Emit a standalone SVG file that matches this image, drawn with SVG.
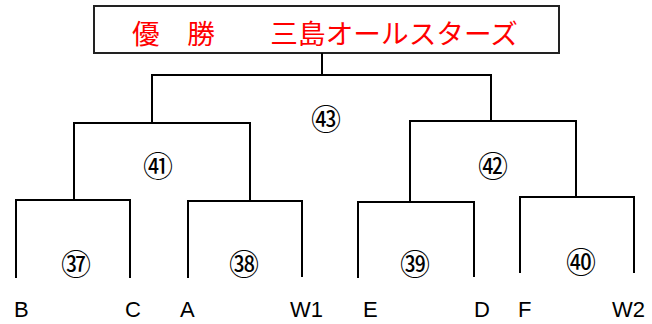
<svg xmlns="http://www.w3.org/2000/svg" width="652" height="324" viewBox="0 0 652 324">
<style>
.ln{fill:none;stroke:#000;stroke-width:2}
.num{font-family:"Noto Sans CJK JP","DejaVu Sans",sans-serif;font-size:30px;text-anchor:middle;dominant-baseline:central;fill:#000}
.team{font-family:"Liberation Sans",Arial,sans-serif;font-size:22px;fill:#000}
.title{font-family:"Noto Sans CJK JP",sans-serif;font-size:27px;fill:#f00}
</style>
<rect width="652" height="324" fill="#fff"/>
<g id="title">
<rect x="94" y="6" width="465" height="47" fill="#fff" stroke="#222" stroke-width="2"/>
<text class="title" x="132" y="44" textLength="386" lengthAdjust="spacingAndGlyphs">優　勝　　三島オールスターズ</text>
</g>
<g id="connectors">
<path class="ln" d="M322,53 V75"/>
<path class="ln" d="M152,122 V75 H491 V120"/>
<path class="ln" d="M74,200 V123 H250 V201"/>
<path class="ln" d="M410,202 V121 H576 V197"/>
<path class="ln" d="M16,278 V200 H130 V278"/>
<path class="ln" d="M188,278 V201 H302 V277"/>
<path class="ln" d="M358,278 V202 H474 V277"/>
<path class="ln" d="M520,273 V197 H634 V273"/>
</g>
<g id="m43"><text class="num" x="326" y="117">㊸</text></g>
<g id="m41"><text class="num" x="158" y="164">㊶</text></g>
<g id="m42"><text class="num" x="493" y="164">㊷</text></g>
<g id="m37"><text class="num" x="76" y="262">㊲</text></g>
<g id="m38"><text class="num" x="244" y="262">㊳</text></g>
<g id="m39"><text class="num" x="415" y="262">㊴</text></g>
<g id="m40"><text class="num" x="581" y="260">㊵</text></g>
<g id="tB"><text class="team" x="14" y="317">B</text></g>
<g id="tC"><text class="team" x="125" y="317">C</text></g>
<g id="tA"><text class="team" x="180" y="317">A</text></g>
<g id="tW1"><text class="team" x="290" y="317">W1</text></g>
<g id="tE"><text class="team" x="363" y="317">E</text></g>
<g id="tD"><text class="team" x="474" y="317">D</text></g>
<g id="tF"><text class="team" x="518" y="317">F</text></g>
<g id="tW2"><text class="team" x="612" y="317">W2</text></g>
</svg>
